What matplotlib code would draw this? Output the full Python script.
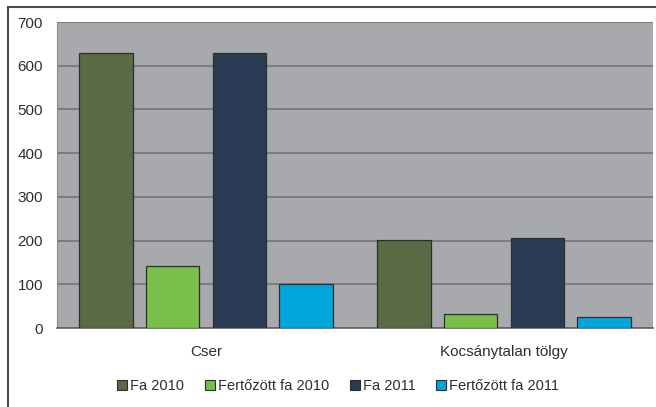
import matplotlib.pyplot as plt
import numpy as np
from matplotlib.lines import Line2D

plt.rcParams['font.family'] = ['Liberation Sans', 'DejaVu Sans']

categories = ['Cser', 'Kocsánytalan tölgy']
series_names = ['Fa 2010', 'Fertőzött fa 2010', 'Fa 2011', 'Fertőzött fa 2011']
fa_2010 = [630, 202]
fert_2010 = [142, 31]
fa_2011 = [629, 206]
fert_2011 = [100, 26]
yticks = [0, 100, 200, 300, 400, 500, 600, 700]

colors = ['#5a6a45', '#78bf4b', '#2b3b53', '#00a6dc']
values = [fa_2010, fert_2010, fa_2011, fert_2011]

fig = plt.figure(figsize=(6.56, 4.07), dpi=100)
ax = fig.add_axes([57 / 656, 79 / 407, 596 / 656, 306 / 407])
ax.set_facecolor('#a7a9ac')

x = np.arange(len(categories))
width = 0.18
step = 0.224
for i, (vals, col) in enumerate(zip(values, colors)):
    ax.bar(x + (i - 1.5) * step, vals, width, color=col, edgecolor='#2a2f2a',
           linewidth=0.9, zorder=3)

ax.set_xlim(-0.5, 1.5)
ax.set_ylim(0, 700)
ax.set_yticks(yticks)
ax.set_xticks(x)
ax.set_xticklabels(categories)
ax.yaxis.grid(True, color='#6f7072', linewidth=1.1, zorder=0)
ax.set_axisbelow(True)
ax.tick_params(axis='both', length=0, labelsize=11, colors='#2e2e2e')
ax.tick_params(axis='y', pad=10)
ax.tick_params(axis='x', pad=12)
for s in ['top', 'right']:
    ax.spines[s].set_visible(False)
ax.spines['left'].set_color('#8a8b8d')
ax.spines['bottom'].set_color('#5f6062')
ax.spines['bottom'].set_linewidth(1.2)

handles = [Line2D([0], [0], marker='s', linestyle='none', markersize=6.5,
                  markerfacecolor=c, markeredgecolor='#2a2f2a', markeredgewidth=0.8)
           for c in colors]
fig.legend(handles, series_names, loc='center', bbox_to_anchor=(338 / 656, 1 - 386 / 407),
           ncol=4, frameon=False, fontsize=10.5, handlelength=0.7, handletextpad=0.2,
           columnspacing=1.4, labelcolor='#2e2e2e')

# outer frame of the chart
fig.add_artist(Line2D([8 / 656, 8 / 656], [0, 1 - 7 / 407], transform=fig.transFigure,
                      color='#4a4a4a', linewidth=1.5))
fig.add_artist(Line2D([8 / 656, 1], [1 - 7 / 407, 1 - 7 / 407], transform=fig.transFigure,
                      color='#4a4a4a', linewidth=1.5))

fig.savefig('out.png', dpi=100)
